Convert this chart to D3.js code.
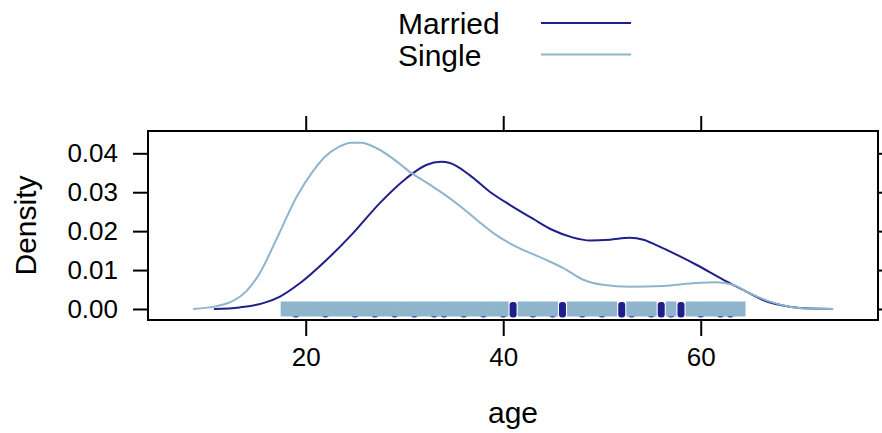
<!DOCTYPE html>
<html>
<head>
<meta charset="utf-8">
<script src="https://cdn.jsdelivr.net/npm/d3@7"></script>
<style>
  html, body { margin: 0; padding: 0; background: #fff; }
  svg { display: block; font-family: "Liberation Sans", Arial, Helvetica, sans-serif; }
</style>
</head>
<body>
<svg id="chart" width="882" height="433"></svg>
<script>
// ---- Data ----
const groups = ["Married", "Single"];
const groupColors = ["#1f1f8c", "#8fb5cc"];

// Kernel density curves: [age, density]
const marriedDensity = [
  [10.7, 0.0000], [13.3, 0.0004], [15.7, 0.0015], [17.4, 0.0032], [19.4, 0.0066],
  [22.1, 0.0126], [24.8, 0.0195], [27.5, 0.0272], [30.2, 0.0336], [32.2, 0.0370],
  [33.7, 0.0378], [34.6, 0.0375], [36.6, 0.0344], [38.6, 0.0302], [40.7, 0.0267],
  [43.0, 0.0232], [45.0, 0.0203], [47.0, 0.0184], [48.8, 0.0176], [50.8, 0.0178],
  [52.8, 0.0183], [54.2, 0.0178], [55.5, 0.0164], [57.6, 0.0139], [59.6, 0.0113],
  [62.3, 0.0075], [64.3, 0.0049], [66.3, 0.0023], [69.0, 0.0006], [71.2, 0.0001],
  [73.4, 0.0000]
];
const singleDensity = [
  [8.6, 0.0000], [11.1, 0.0008], [12.6, 0.0020], [14.0, 0.0046], [15.3, 0.0090],
  [17.0, 0.0177], [19.1, 0.0289], [20.7, 0.0353], [21.9, 0.0390], [23.4, 0.0417],
  [24.6, 0.0427], [25.6, 0.0427], [27.2, 0.0413], [28.8, 0.0387], [30.5, 0.0353],
  [32.6, 0.0319], [34.0, 0.0295], [35.9, 0.0259], [37.5, 0.0225], [39.0, 0.0195],
  [41.0, 0.0164], [44.0, 0.0130], [46.1, 0.0105], [48.1, 0.0075], [50.1, 0.0062],
  [52.8, 0.0057], [56.2, 0.0059], [59.2, 0.0066], [61.6, 0.0069], [63.3, 0.0062],
  [65.0, 0.0040], [67.0, 0.0019], [69.0, 0.0006], [71.2, 0.0001], [73.4, 0.0000]
];

// Observed ages drawn as a rug at density 0
const marriedAges = [19, 22, 25, 27, 29, 31, 33, 34, 36, 38, 40, 41, 43, 45, 46, 48,
                     50, 52, 53, 55, 56, 57, 58, 60, 62, 63];
const singleAges = [18, 19, 20, 21, 22, 23, 24, 25, 26, 27, 28, 29, 30, 31, 32, 33,
                    34, 35, 36, 37, 38, 39, 40, 42, 43, 44, 45, 47, 48, 49, 50, 51,
                    53, 54, 55, 57, 59, 60, 61, 62, 63, 64];

const xTicks = [20, 40, 60];
const yTicks = [0.00, 0.01, 0.02, 0.03, 0.04];
const xLabel = "age";
const yLabel = "Density";

// ---- Layout ----
const svg = d3.select("#chart");
const panel = { left: 148, right: 878, top: 131, bottom: 320 };

const x = d3.scaleLinear().domain([4.03, 77.95]).range([panel.left, panel.right]);
const y = d3.scaleLinear().domain([-0.00283, 0.04573]).range([panel.bottom, panel.top]);

// Rug (married first, single on top)
const rugM = svg.append("g");
rugM.selectAll("rect").data(marriedAges).enter().append("rect")
  .attr("x", d => x(d) - 3.5)
  .attr("y", y(0) - 7)
  .attr("width", 7)
  .attr("height", 15.5)
  .attr("rx", 3)
  .attr("fill", groupColors[0]);

const rugS = svg.append("g");
rugS.selectAll("rect").data(singleAges).enter().append("rect")
  .attr("x", d => x(d) - 5.3)
  .attr("y", y(0) - 7.5)
  .attr("width", 10.6)
  .attr("height", 15)
  .attr("fill", groupColors[1]);

// Density lines
const line = d3.line().x(d => x(d[0])).y(d => y(d[1])).curve(d3.curveMonotoneX);
[marriedDensity, singleDensity].forEach((data, i) => {
  svg.append("path")
    .datum(data)
    .attr("d", line)
    .attr("fill", "none")
    .attr("stroke", groupColors[i])
    .attr("stroke-width", 2);
});

// Panel border
svg.append("rect")
  .attr("x", panel.left).attr("y", panel.top)
  .attr("width", panel.right - panel.left)
  .attr("height", panel.bottom - panel.top)
  .attr("fill", "none").attr("stroke", "#000").attr("stroke-width", 2);

// Axes
const axBottom = d3.axisBottom(x).tickValues(xTicks).tickSize(16).tickPadding(12).tickFormat(d3.format("d"));
const axTop = d3.axisTop(x).tickValues(xTicks).tickSize(15).tickFormat("");
const axLeft = d3.axisLeft(y).tickValues(yTicks).tickSize(15).tickPadding(15).tickFormat(d3.format(".2f"));
const axRight = d3.axisRight(y).tickValues(yTicks).tickSize(6).tickFormat("");

function style(g) {
  g.select(".domain").remove();
  g.selectAll(".tick line").attr("stroke", "#000").attr("stroke-width", 2);
  g.selectAll(".tick text").attr("fill", "#000").style("font-size", "26px")
    .style("font-family", "'Liberation Sans', Arial, Helvetica, sans-serif");
}
svg.append("g").attr("transform", `translate(0,${panel.bottom})`).call(axBottom).call(style);
svg.append("g").attr("transform", `translate(0,${panel.top})`).call(axTop).call(style);
svg.append("g").attr("transform", `translate(${panel.left},0)`).call(axLeft).call(style);
svg.append("g").attr("transform", `translate(${panel.right},0)`).call(axRight).call(style);

// Axis titles
svg.append("text")
  .attr("x", (panel.left + panel.right) / 2).attr("y", 423)
  .attr("text-anchor", "middle").style("font-size", "30px").text(xLabel);
svg.append("text")
  .attr("transform", `translate(36,${(panel.top + panel.bottom) / 2}) rotate(-90)`)
  .attr("text-anchor", "middle").style("font-size", "30px").text(yLabel);

// Legend
const legend = svg.append("g");
groups.forEach((g, i) => {
  const ly = 22 + i * 31.5;
  legend.append("text")
    .attr("x", 398).attr("y", ly + 12)
    .style("font-size", "30px").text(g);
  legend.append("line")
    .attr("x1", 541).attr("x2", 631)
    .attr("y1", ly + 1).attr("y2", ly + 1)
    .attr("stroke", groupColors[i]).attr("stroke-width", 2);
});
</script>
</body>
</html>
